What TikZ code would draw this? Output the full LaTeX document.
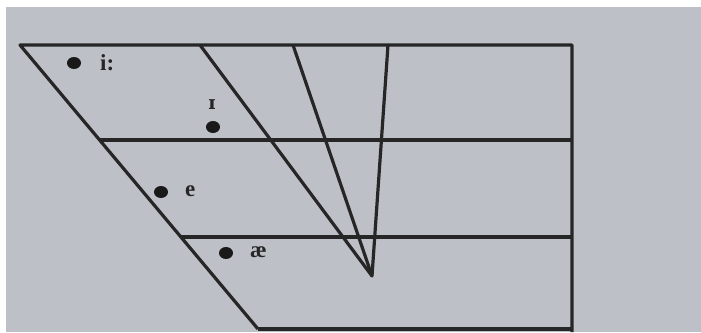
\documentclass[tikz,border=0pt]{standalone}
\usetikzlibrary{shapes.geometric}
\usepackage{fontspec}
\setmainfont{Liberation Serif}
\newfontfamily\ipafont{DejaVu Serif}
\definecolor{paper}{HTML}{BDC1C7}
\begin{document}
\begin{tikzpicture}[x=1pt,y=-1pt,
  chartline/.style={line width=3.2pt, draw=black!85, line join=round},
  vdot/.style={ellipse, fill=black!90, minimum width=14pt, minimum height=12pt, inner sep=0pt},
  vlabel/.style={font=\fontsize{23}{26}\selectfont\bfseries, text=black!85, inner sep=0pt}]
\useasboundingbox (0,0) rectangle (701,332);
\fill[white] (0,0) rectangle (701,332);
\fill[paper] (6,7) rectangle (701,332);
% corner coordinates
\coordinate (TL) at (20,45);
\coordinate (TR) at (572,45);
\coordinate (BR) at (572,332);
\coordinate (BL) at (258,329);
\coordinate (BB) at (572,329);
\coordinate (M1L) at (100,140);
\coordinate (M1R) at (572,140);
\coordinate (M2L) at (181,237);
\coordinate (M2R) at (572,237);
\coordinate (A) at (372,276);
\coordinate (T1) at (200,45);
\coordinate (T2) at (293,45);
\coordinate (T3) at (388,45);
% frame
\draw[chartline] (BL) -- (TL) -- (TR) -- (BR);
\draw[chartline] (BL) -- (BB);
\draw[chartline] (M1L) -- (M1R);
\draw[chartline] (M2L) -- (M2R);
\draw[chartline] (T1) -- (A) -- (T3);
\draw[chartline] (T2) -- (A);
% vowels
\node[vdot] (di) at (74,63) {};
\node[vlabel, anchor=west] (li) at (100,63) {i:};
\node[vdot] (dI) at (213,127) {};
\node[vlabel] (lI) at (212,105) {\ipafont\bfseries\fontsize{19}{22}\selectfont ɪ};
\node[vdot] (de) at (161,192) {};
\node[vlabel, anchor=west] (le) at (185,191) {e};
\node[vdot] (dae) at (226,253) {};
\node[vlabel, anchor=west] (lae) at (250,252) {æ};
\end{tikzpicture}
\end{document}
